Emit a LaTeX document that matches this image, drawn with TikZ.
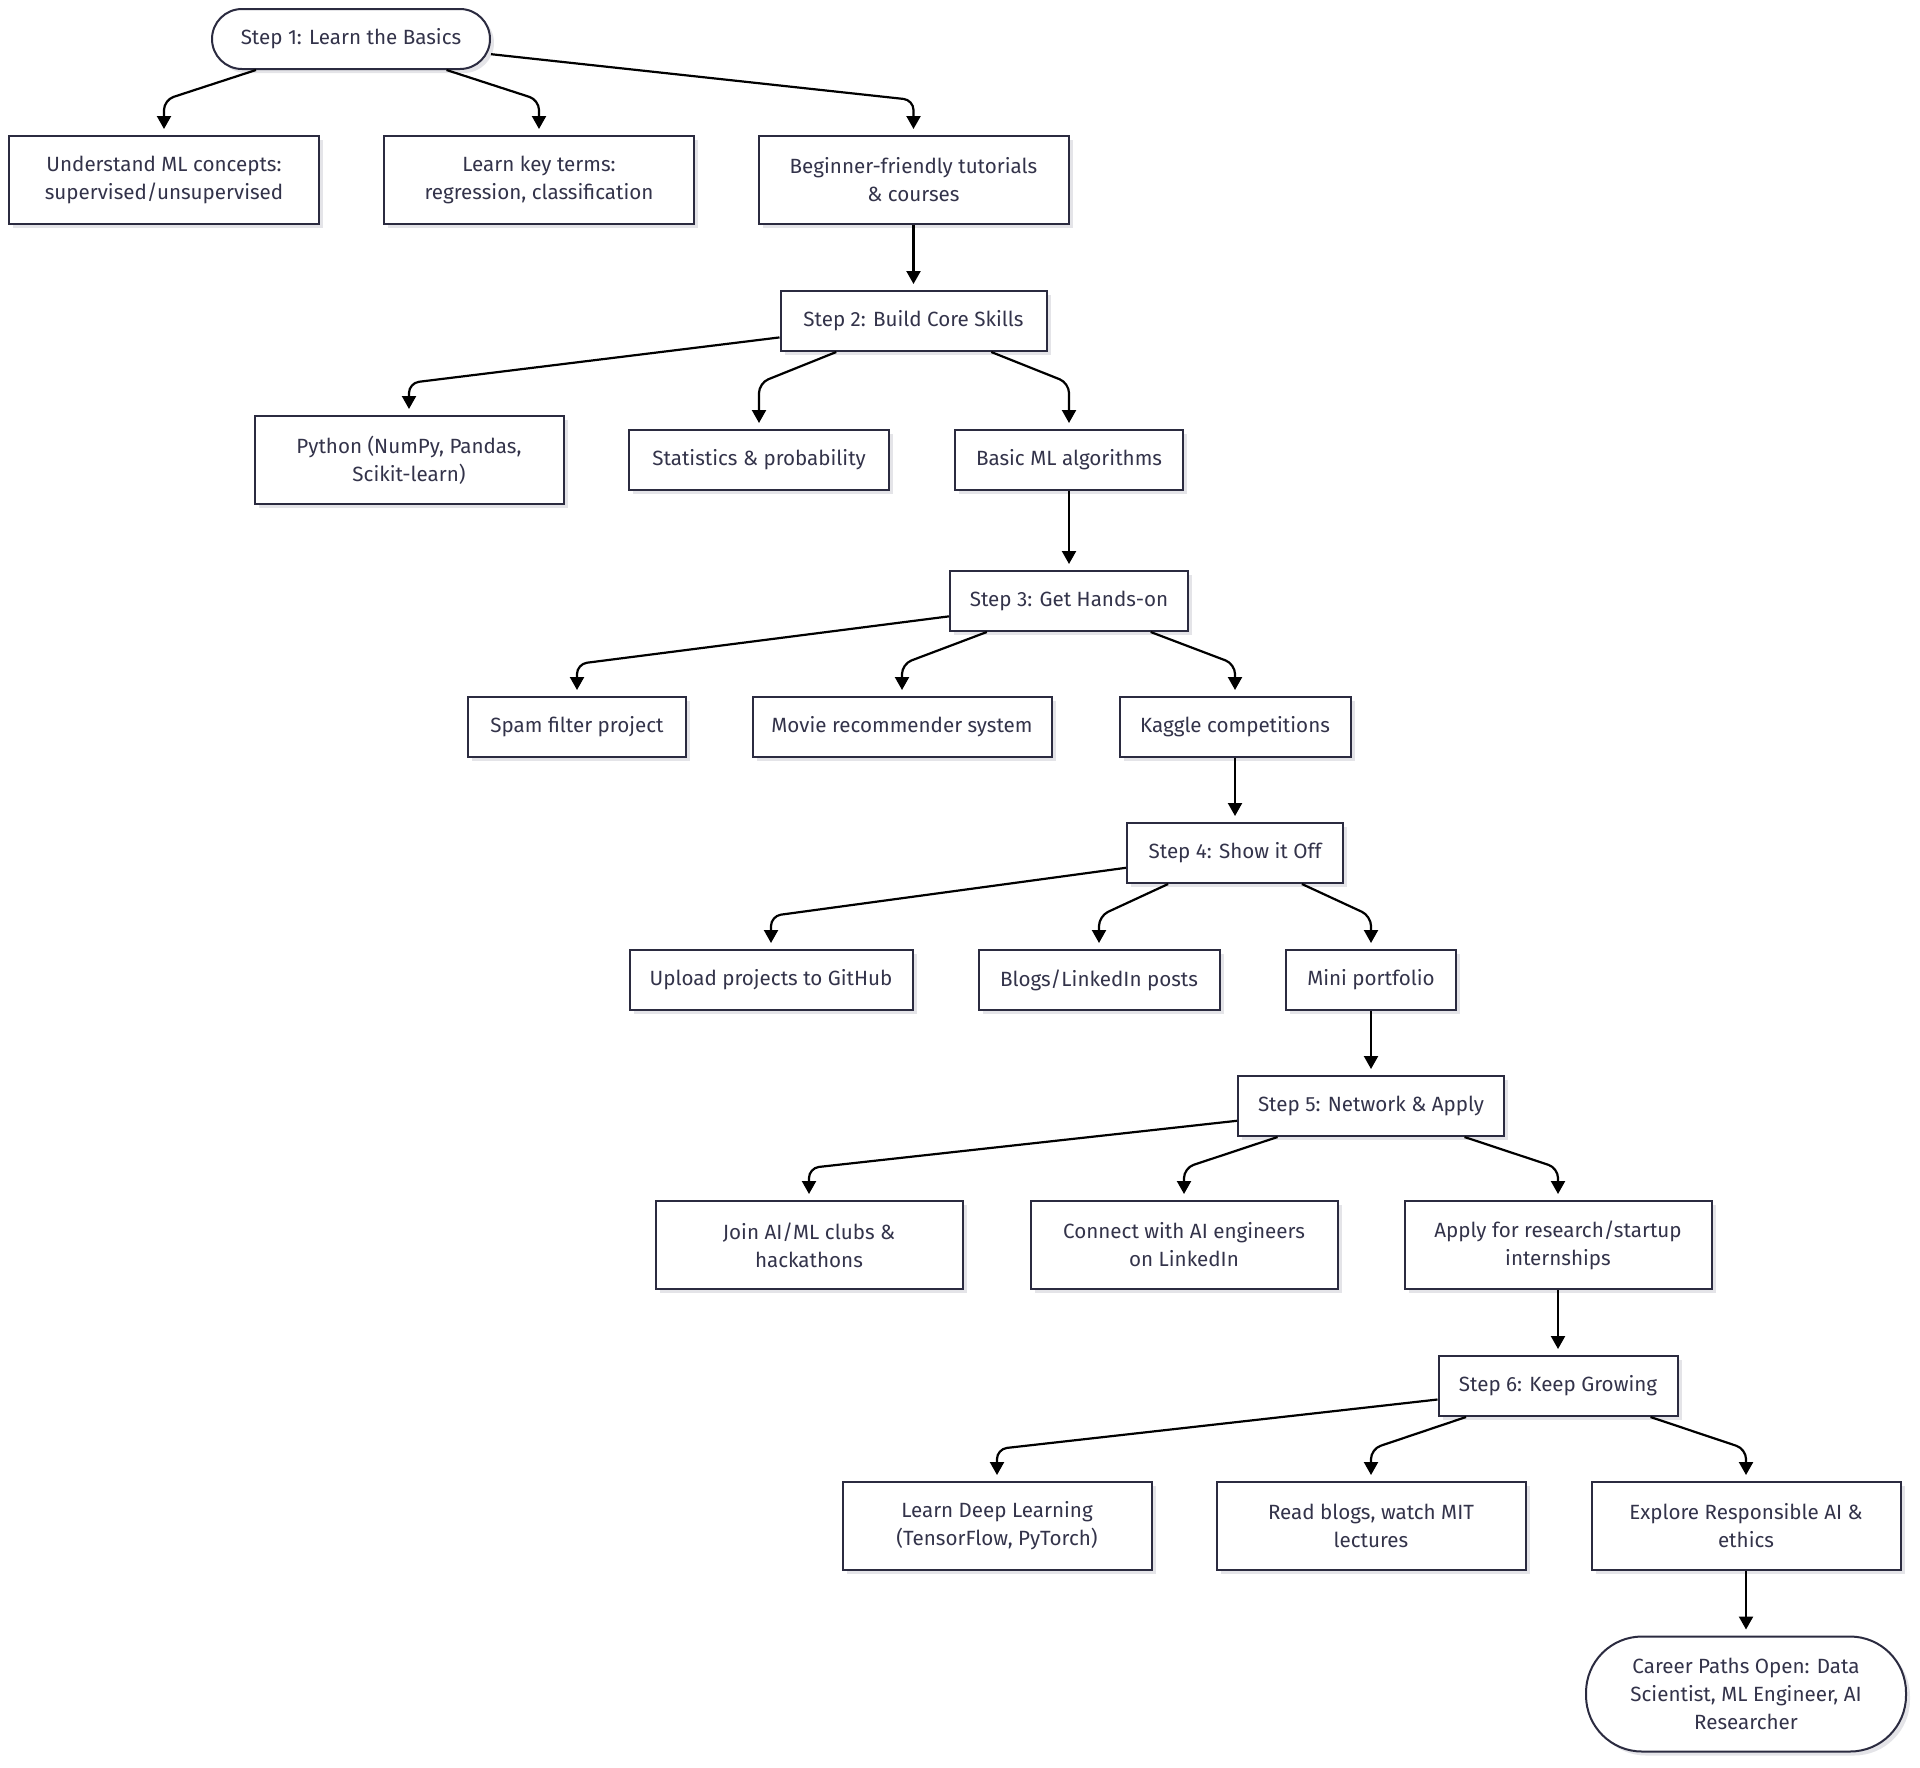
\documentclass[tikz,border=0pt]{standalone}
\usepackage{fontspec}
\setsansfont{Fira Sans}
\usepackage{xcolor}
\usepackage{tikz}
\usetikzlibrary{arrows.meta,shadows}
\definecolor{mmBorder}{HTML}{2B2B40}
\definecolor{mmText}{HTML}{33334A}
\definecolor{mmShade}{HTML}{E4E4E8}

\begin{document}
\begin{tikzpicture}[
  x=0.5pt, y=-0.5pt,
  font=\sffamily\fontsize{10.3}{14}\selectfont,
  box/.style={draw=mmBorder, line width=1pt, align=center, fill=white,
              text=mmText, inner sep=2pt, minimum height=30pt,
              drop shadow={shadow xshift=2pt, shadow yshift=-2pt, fill=mmShade, opacity=1}},
  tall/.style={box, minimum height=44pt},
  pill/.style={box, rounded corners=15pt},
  arr/.style={-{Triangle[length=6.5pt,width=7pt]}, line width=1.1pt, black,
              rounded corners=5pt, shorten >=3pt}
]
  \useasboundingbox (0,0) rectangle (1920,1767);

  \node[pill, minimum width=139pt] (s1) at (351,39) {Step 1: Learn the Basics};
  \node[tall, minimum width=155pt] (understand) at (164,180) {Understand ML concepts:\\supervised/unsupervised};
  \node[tall, minimum width=155pt] (keyterms) at (539,180) {Learn key terms:\\regression, classification};
  \node[tall, minimum width=155pt] (tutorials) at (913.5,180) {Beginner-friendly tutorials\\\& courses};

  \node[box, minimum width=133pt] (s2) at (913.5,321) {Step 2: Build Core Skills};
  \node[tall, minimum width=154.5pt] (python) at (409,460) {Python (NumPy, Pandas,\\Scikit-learn)};
  \node[box, minimum width=130pt] (stats) at (759,460) {Statistics \& probability};
  \node[box, minimum width=114pt] (basicml) at (1069,460) {Basic ML algorithms};

  \node[box, minimum width=119pt] (s3) at (1069,601) {Step 3: Get Hands-on};
  \node[box, minimum width=109pt] (spam) at (577,727) {Spam filter project};
  \node[box, minimum width=149.5pt] (movie) at (902,727) {Movie recommender system};
  \node[box, minimum width=115.5pt] (kaggle) at (1235,727) {Kaggle competitions};

  \node[box, minimum width=108pt] (s4) at (1235,853) {Step 4: Show it Off};
  \node[box, minimum width=141.5pt] (upload) at (771,980) {Upload projects to GitHub};
  \node[box, minimum width=120.5pt] (blogs) at (1099,980) {Blogs/LinkedIn posts};
  \node[box, minimum width=85pt] (portfolio) at (1371,980) {Mini portfolio};

  \node[box, minimum width=133pt] (s5) at (1371,1106) {Step 5: Network \& Apply};
  \node[tall, minimum width=153.5pt] (clubs) at (809,1245) {Join AI/ML clubs \&\\hackathons};
  \node[tall, minimum width=153.5pt] (connect) at (1184,1245) {Connect with AI engineers\\on LinkedIn};
  \node[tall, minimum width=153.5pt] (apply) at (1558,1245) {Apply for research/startup\\internships};

  \node[box, minimum width=119.5pt] (s6) at (1558,1386) {Step 6: Keep Growing};
  \node[tall, minimum width=154.5pt] (deeplearn) at (997,1526) {Learn Deep Learning\\(TensorFlow, PyTorch)};
  \node[tall, minimum width=154.5pt] (readblogs) at (1371,1526) {Read blogs, watch MIT\\lectures};
  \node[tall, minimum width=154.5pt] (ethics) at (1746,1526) {Explore Responsible AI \&\\ethics};

  \node[box, rounded corners=28pt, minimum width=160pt, minimum height=57.5pt] (career) at (1746,1694)
    {Career Paths Open: Data\\Scientist, ML Engineer, AI\\Researcher};

  % bend levels
  \coordinate (b1) at (0,100);
  \coordinate (b2) at (0,383);
  \coordinate (b3) at (0,664);
  \coordinate (b4) at (0,916);
  \coordinate (b5) at (0,1168);
  \coordinate (b6) at (0,1449);

  \draw[arr] (s1) -- (understand.north |- b1) -- (understand);
  \draw[arr] (s1) -- (keyterms.north |- b1) -- (keyterms);
  \draw[arr] (s1) -- (tutorials.north |- b1) -- (tutorials);
  \draw[arr] (tutorials) -- (s2);

  \draw[arr] (s2) -- (python.north |- b2) -- (python);
  \draw[arr] (s2) -- (stats.north |- b2) -- (stats);
  \draw[arr] (s2) -- (basicml.north |- b2) -- (basicml);
  \draw[arr] (basicml) -- (s3);

  \draw[arr] (s3) -- (spam.north |- b3) -- (spam);
  \draw[arr] (s3) -- (movie.north |- b3) -- (movie);
  \draw[arr] (s3) -- (kaggle.north |- b3) -- (kaggle);
  \draw[arr] (kaggle) -- (s4);

  \draw[arr] (s4) -- (upload.north |- b4) -- (upload);
  \draw[arr] (s4) -- (blogs.north |- b4) -- (blogs);
  \draw[arr] (s4) -- (portfolio.north |- b4) -- (portfolio);
  \draw[arr] (portfolio) -- (s5);

  \draw[arr] (s5) -- (clubs.north |- b5) -- (clubs);
  \draw[arr] (s5) -- (connect.north |- b5) -- (connect);
  \draw[arr] (s5) -- (apply.north |- b5) -- (apply);
  \draw[arr] (apply) -- (s6);

  \draw[arr] (s6) -- (deeplearn.north |- b6) -- (deeplearn);
  \draw[arr] (s6) -- (readblogs.north |- b6) -- (readblogs);
  \draw[arr] (s6) -- (ethics.north |- b6) -- (ethics);
  \draw[arr] (ethics) -- (career);
\end{tikzpicture}
\end{document}
